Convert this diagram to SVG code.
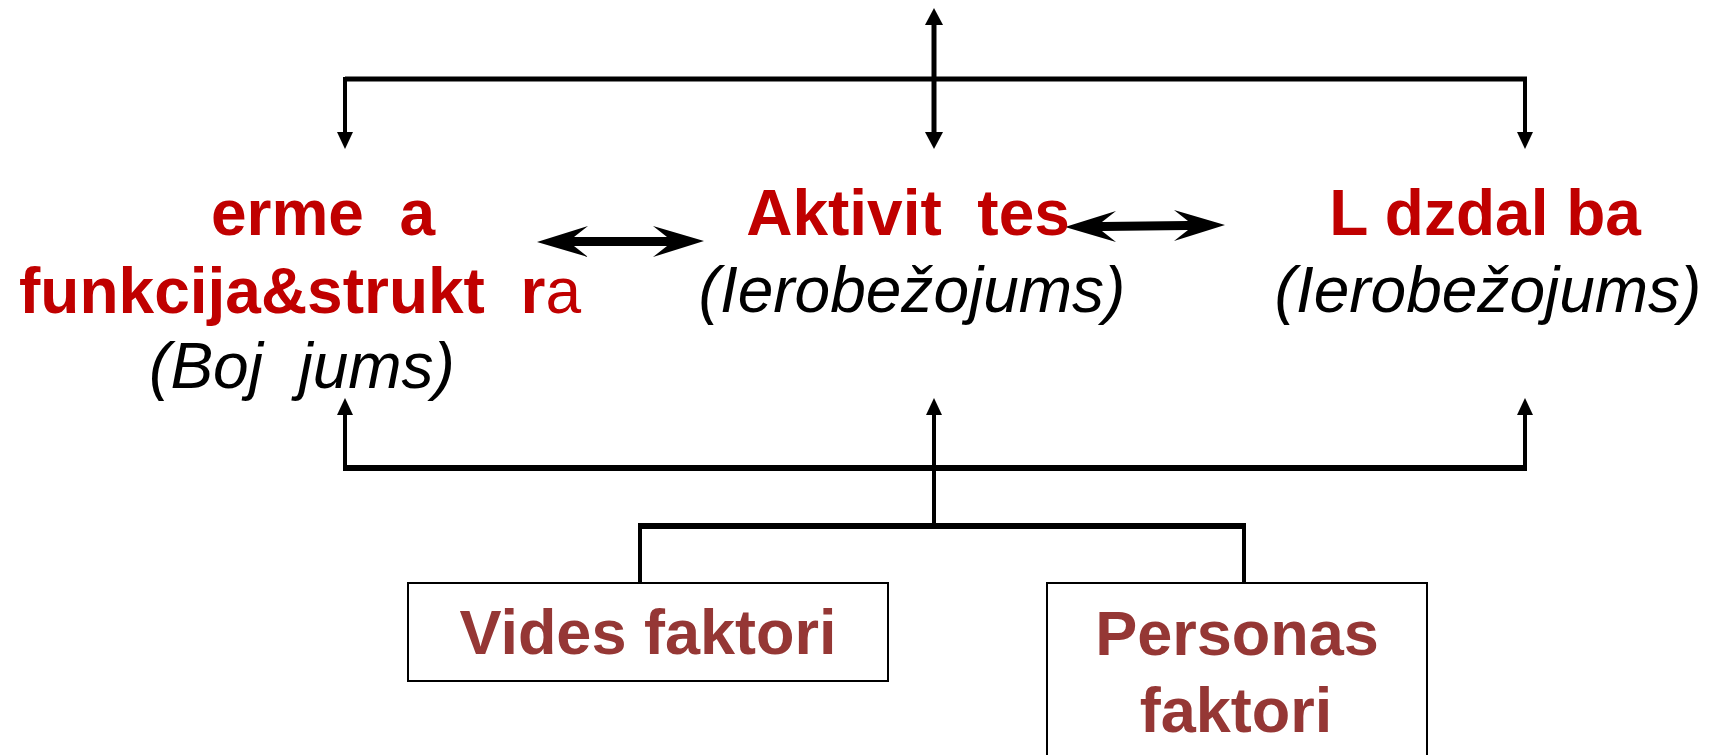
<svg xmlns="http://www.w3.org/2000/svg" width="1713" height="755" viewBox="0 0 1713 755">
<style>
.red{font-family:"Liberation Sans",Arial,sans-serif;font-size:64px;font-weight:bold;fill:#C00000;text-anchor:middle;white-space:pre}
.it{font-family:"Liberation Sans",Arial,sans-serif;font-size:64px;font-style:italic;fill:#000;text-anchor:middle;white-space:pre}
.box{fill:#fff;stroke:#000;stroke-width:2}
.bt{font-family:"Liberation Sans",Arial,sans-serif;font-size:63px;font-weight:bold;fill:#953735;text-anchor:middle}
.ln{stroke:#000;fill:none;stroke-linecap:butt}
.ah{fill:#000}
</style>
<rect width="1713" height="755" fill="#fff"/>
<g id="connectors">
  <!-- top -->
  <line class="ln" x1="345" y1="79" x2="1527" y2="79" stroke-width="5"/>
  <line class="ln" x1="934" y1="22" x2="934" y2="135" stroke-width="5"/>
  <polygon class="ah" points="934,8 925,25 943,25"/>
  <polygon class="ah" points="934,149 925,132 943,132"/>
  <line class="ln" x1="345" y1="77" x2="345" y2="135" stroke-width="4"/>
  <polygon class="ah" points="345,149 337,132 353,132"/>
  <line class="ln" x1="1525" y1="77" x2="1525" y2="135" stroke-width="4"/>
  <polygon class="ah" points="1525,149 1517,132 1533,132"/>
  <!-- bottom -->
  <line class="ln" x1="343" y1="468" x2="1527" y2="468" stroke-width="6"/>
  <line class="ln" x1="345" y1="410" x2="345" y2="468" stroke-width="4"/>
  <polygon class="ah" points="345,398 337,415 353,415"/>
  <line class="ln" x1="934" y1="410" x2="934" y2="526" stroke-width="4"/>
  <polygon class="ah" points="934,398 926,415 942,415"/>
  <line class="ln" x1="1525" y1="410" x2="1525" y2="468" stroke-width="4"/>
  <polygon class="ah" points="1525,398 1517,415 1533,415"/>
  <line class="ln" x1="638" y1="526" x2="1246" y2="526" stroke-width="6"/>
  <line class="ln" x1="640" y1="526" x2="640" y2="584" stroke-width="4"/>
  <line class="ln" x1="1244" y1="526" x2="1244" y2="584" stroke-width="4"/>
  <!-- double arrows -->
  <polygon class="ah" points="537,242 588,226 574,237 667,237 653,226 704,241 653,257 667,246 574,246 588,257"/>
  <polygon class="ah" points="1065,227 1116,211 1102,222 1188,221 1174,210 1225,225 1174,241 1188,230 1102,231 1116,242"/>
</g>
<g id="node-left">
  <text class="red" x="323" y="235">erme  a</text>
  <text class="red" x="300" y="313">funkcija&amp;strukt  r<tspan font-weight="normal">a</tspan></text>
  <text class="it" x="302" y="388">(Boj  jums)</text>
</g>
<g id="node-center">
  <text class="red" x="908" y="235">Aktivit  tes</text>
  <text class="it" x="912" y="312">(Ierobežojums)</text>
</g>
<g id="node-right">
  <text class="red" x="1485" y="235">L dzdal ba</text>
  <text class="it" x="1488" y="312">(Ierobežojums)</text>
</g>
<g id="node-vides">
  <rect class="box" x="408" y="583" width="480" height="98"/>
  <text class="bt" x="648" y="654">Vides faktori</text>
</g>
<g id="node-personas">
  <rect class="box" x="1047" y="583" width="380" height="180"/>
  <text class="bt" x="1237" y="655">Personas</text>
  <text class="bt" x="1236" y="732">faktori</text>
</g>
</svg>
